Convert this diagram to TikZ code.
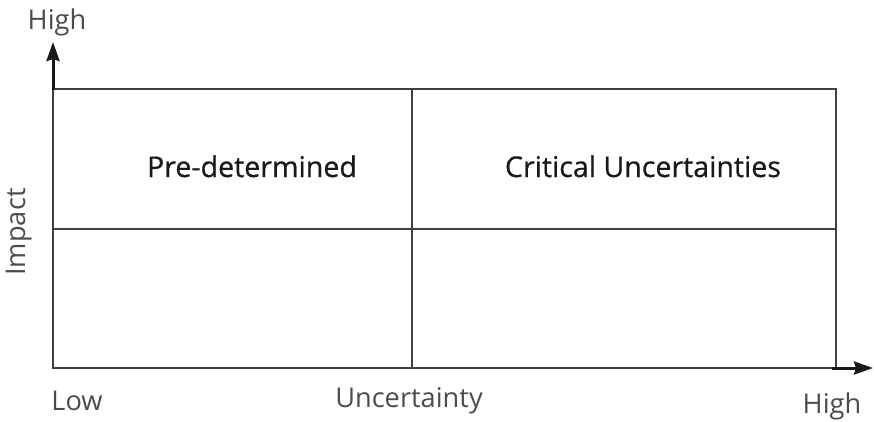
\documentclass[tikz,border=0pt]{standalone}
\usepackage{fontspec}
\setmainfont{Open Sans}
\newfontfamily\quadfont[FakeBold=0.6]{Open Sans}
\usetikzlibrary{arrows.meta}
\begin{document}
\begin{tikzpicture}[x=1pt,y=-1pt,
  grid/.style={draw=black!75, line width=1.4pt},
  axis/.style={draw=black!90, line width=3pt, -{Stealth[length=19pt,width=13pt,inset=2pt]}},
  lab/.style={font=\fontsize{27.2}{30}\selectfont, text=black!70, inner sep=0pt, anchor=base},
  quad/.style={font=\quadfont\fontsize{28.6}{32}\selectfont, text=black!90, inner sep=0pt, anchor=base}]
\useasboundingbox (0,0) rectangle (874,421);
\coordinate (tl) at (53,89);
\coordinate (br) at (836,368);
\coordinate (tm) at (412,89);
\coordinate (bm) at (412,368);
\coordinate (ml) at (53,229);
\coordinate (mr) at (836,229);
\coordinate (upend) at (53,42);
\coordinate (rtend) at (873,368);
\draw[grid] (tl) rectangle (br);
\draw[grid] (tm) -- (bm);
\draw[grid] (ml) -- (mr);
\draw[axis] ([yshift=-1pt]tl) -- (upend);
\draw[axis] ([xshift=-4pt]br) -- (rtend);
\node[lab] (hightop) at (57,29) {High};
\node[lab, rotate=90] (impact) at (25,232) {Impact};
\node[lab] (low) at (77,410) {Low};
\node[lab] (unc) at (409,407) {Uncertainty};
\node[lab] (highr) at (832,413) {High};
\node[quad] (pre) at (252,177) {Pre-determined};
\node[quad] (crit) at (643,177) {Critical Uncertainties};
\end{tikzpicture}
\end{document}
